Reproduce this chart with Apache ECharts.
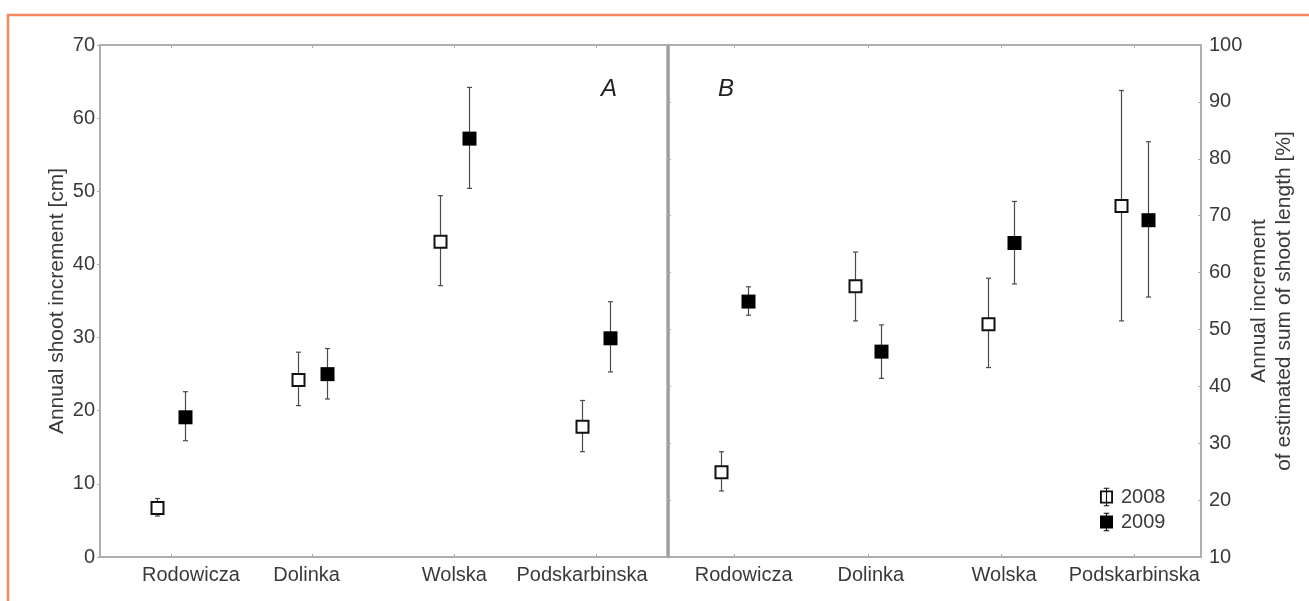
<!DOCTYPE html>
<html>
<head>
<meta charset="utf-8">
<script src="https://cdn.jsdelivr.net/npm/echarts@6/dist/echarts.min.js"></script>
<style>
  html, body { margin: 0; padding: 0; background: #fff; }
  #chart { width: 1309px; height: 601px; }
</style>
</head>
<body>
<div id="chart"></div>
<script>
// Study sites
const sites = ['Rodowicza', 'Dolinka', 'Wolska', 'Podskarbinska'];

// Panel A – annual shoot increment [cm]: mean and error-bar limits
const incMean2008 = [6.7, 24.2, 43.1, 17.8];
const incLow2008  = [5.6, 20.7, 37.1, 14.4];
const incHigh2008 = [8.0, 28.0, 49.4, 21.4];
const incMean2009 = [19.1, 25.0, 57.2, 29.9];
const incLow2009  = [15.9, 21.6, 50.4, 25.3];
const incHigh2009 = [22.6, 28.5, 64.2, 34.9];

// Panel B – annual increment of estimated sum of shoot length [%]
const pctMean2008 = [24.9, 57.6, 50.9, 71.7];
const pctLow2008  = [21.6, 51.5, 43.3, 51.5];
const pctHigh2008 = [28.5, 63.6, 59.0, 92.0];
const pctMean2009 = [54.9, 46.1, 65.2, 69.2];
const pctLow2009  = [52.5, 41.4, 58.0, 55.7];
const pctHigh2009 = [57.5, 50.8, 72.5, 83.0];

// Axis tick values
const ticksA = [0, 10, 20, 30, 40, 50, 60, 70];
const ticksB = [10, 20, 30, 40, 50, 60, 70, 80, 90, 100];

const FONT = 'Liberation Sans, Arial, Helvetica, sans-serif';
const TEXT = '#3a3a3a';
const FRAME = '#ababab';
const LABEL_SIZE = 20;
const NAME_SIZE = 21;

// rows of [siteIndex, mean, low, high]
function rows(mean, low, high) {
  return mean.map((m, i) => [i, m, low[i], high[i]]);
}

// small per-site nudges of the category captions (px, + = right)
const captionShiftA = [20, -6, 0, -14];
const captionShiftB = [9, 3, 3, 0];
function captions(shift) {
  return sites.map((s, i) => ({
    value: s,
    textStyle: { padding: shift[i] >= 0 ? [0, 0, 0, 2 * shift[i]] : [0, -2 * shift[i], 0, 0] }
  }));
}

// square marker with vertical error bar, offset left/right inside its site band
function errorMarker(filled, side) {
  return function (params, api) {
    const c = api.coord([api.value(0), api.value(1)]);
    const lo = api.coord([api.value(0), api.value(2)]);
    const hi = api.coord([api.value(0), api.value(3)]);
    const band = api.size([1, 0])[0];
    const x = Math.round(c[0] + side * band * 0.1) + 0.5;
    const cap = 2.5;
    const bar = { stroke: '#4a4a4a', lineWidth: 1.2 };
    const s = filled ? 14 : 12;
    return {
      type: 'group',
      children: [
        { type: 'line', shape: { x1: x, y1: lo[1], x2: x, y2: hi[1] }, style: bar },
        { type: 'line', shape: { x1: x - cap, y1: lo[1], x2: x + cap, y2: lo[1] }, style: bar },
        { type: 'line', shape: { x1: x - cap, y1: hi[1], x2: x + cap, y2: hi[1] }, style: bar },
        {
          type: 'rect',
          shape: { x: x - s / 2, y: c[1] - s / 2, width: s, height: s },
          style: filled ? { fill: '#000' } : { fill: '#fff', stroke: '#111', lineWidth: 2 }
        }
      ]
    };
  };
}

function xAxes(gridIndex, shift) {
  const base = {
    gridIndex: gridIndex,
    type: 'category',
    boundaryGap: true,
    axisLine: { show: true, lineStyle: { color: FRAME, width: 1.5 } },
    axisTick: { show: true, inside: true, alignWithLabel: true, interval: 0, length: 3, lineStyle: { color: FRAME } },
    splitLine: { show: false }
  };
  return [
    Object.assign({}, base, {
      position: 'bottom',
      data: captions(shift),
      axisLabel: { interval: 0, hideOverlap: false, fontFamily: FONT, fontSize: LABEL_SIZE, color: TEXT, margin: 8 }
    }),
    Object.assign({}, base, {
      position: 'top',
      data: sites,
      axisLabel: { show: false }
    })
  ];
}

const open2008Icon = 'path://M0,0H14V14H0Z M2,2V12H12V2Z M6.4,2H7.6V12H6.4Z M6.4,-3H7.6V0H6.4Z M4,-3H10V-2H4Z M6.4,14H7.6V17H6.4Z M4,16H10V17H4Z';
const filled2009Icon = 'path://M0,0H14V14H0Z M6.4,-3H7.6V17H6.4Z M4,-3H10V-2H4Z M4,16H10V17H4Z';

const panelLetter = { fontFamily: FONT, fontStyle: 'italic', fontWeight: 'normal', fontSize: 24, color: '#222' };

const option = {
  animation: false,
  backgroundColor: '#fff',
  textStyle: { fontFamily: FONT },
  title: [
    { text: 'A', left: 596, top: 72, textStyle: panelLetter },
    { text: 'B', left: 713, top: 72, textStyle: panelLetter }
  ],
  graphic: [
    { type: 'rect', z: 100, silent: true, shape: { x: 8, y: 15, width: 1340, height: 640 },
      style: { fill: 'none', stroke: '#f4875c', lineWidth: 2.5 } }
  ],
  legend: {
    orient: 'vertical',
    left: 1095,
    top: 482,
    itemWidth: 13,
    itemHeight: 19,
    itemGap: 5,
    textStyle: { fontFamily: FONT, fontSize: LABEL_SIZE, color: TEXT, padding: [0, 0, 0, 3] },
    data: [
      { name: '2008', icon: open2008Icon, itemStyle: { color: '#111', borderWidth: 0 } },
      { name: '2009', icon: filled2009Icon, itemStyle: { color: '#000', borderWidth: 0 } }
    ]
  },
  grid: [
    { left: 100, right: 642, top: 45, bottom: 44, show: true, borderColor: FRAME, borderWidth: 1.5, backgroundColor: 'transparent' },
    { left: 668, right: 108, top: 45, bottom: 44, show: true, borderColor: FRAME, borderWidth: 1.5, backgroundColor: 'transparent' }
  ],
  xAxis: [].concat(xAxes(0, captionShiftA), xAxes(1, captionShiftB)),
  yAxis: [
    {
      gridIndex: 0, type: 'value', position: 'left',
      min: ticksA[0], max: ticksA[ticksA.length - 1], interval: ticksA[1] - ticksA[0],
      axisLine: { show: true, lineStyle: { color: FRAME, width: 1.5 } },
      axisTick: { show: true, inside: false, length: 3, lineStyle: { color: FRAME } },
      axisLabel: { fontFamily: FONT, fontSize: LABEL_SIZE, color: TEXT, margin: 5 },
      splitLine: { show: false },
      name: 'Annual shoot increment [cm]',
      nameLocation: 'middle', nameRotate: 90, nameGap: 32,
      nameTextStyle: { fontFamily: FONT, fontSize: NAME_SIZE, color: TEXT }
    },
    {
      gridIndex: 1, type: 'value', position: 'right',
      min: ticksB[0], max: ticksB[ticksB.length - 1], interval: ticksB[1] - ticksB[0],
      axisLine: { show: true, lineStyle: { color: FRAME, width: 1.5 } },
      axisTick: { show: true, inside: true, length: 3, lineStyle: { color: FRAME } },
      axisLabel: { fontFamily: FONT, fontSize: LABEL_SIZE, color: TEXT, margin: 8 },
      splitLine: { show: false },
      name: 'Annual increment\nof estimated sum of shoot length [%]',
      nameLocation: 'middle', nameRotate: 90, nameGap: 33,
      nameTextStyle: { fontFamily: FONT, fontSize: NAME_SIZE, color: TEXT, lineHeight: 25 }
    },
    {
      gridIndex: 1, type: 'value', position: 'left',
      min: ticksB[0], max: ticksB[ticksB.length - 1], interval: ticksB[1] - ticksB[0],
      axisLine: { show: true, lineStyle: { color: '#9a9a9a', width: 2.5 } },
      axisTick: { show: true, inside: true, length: 3, lineStyle: { color: FRAME } },
      axisLabel: { show: false },
      splitLine: { show: false }
    }
  ],
  series: [
    { name: '2008', type: 'custom', xAxisIndex: 0, yAxisIndex: 0, renderItem: errorMarker(false, -1),
      data: rows(incMean2008, incLow2008, incHigh2008), encode: { x: 0, y: [1, 2, 3] } },
    { name: '2009', type: 'custom', xAxisIndex: 0, yAxisIndex: 0, renderItem: errorMarker(true, 1),
      data: rows(incMean2009, incLow2009, incHigh2009), encode: { x: 0, y: [1, 2, 3] } },
    { name: '2008', type: 'custom', xAxisIndex: 2, yAxisIndex: 1, renderItem: errorMarker(false, -1),
      data: rows(pctMean2008, pctLow2008, pctHigh2008), encode: { x: 0, y: [1, 2, 3] } },
    { name: '2009', type: 'custom', xAxisIndex: 2, yAxisIndex: 1, renderItem: errorMarker(true, 1),
      data: rows(pctMean2009, pctLow2009, pctHigh2009), encode: { x: 0, y: [1, 2, 3] } }
  ]
};

const chart = echarts.init(document.getElementById('chart'), null, { renderer: 'canvas' });
chart.setOption(option);
</script>
</body>
</html>
